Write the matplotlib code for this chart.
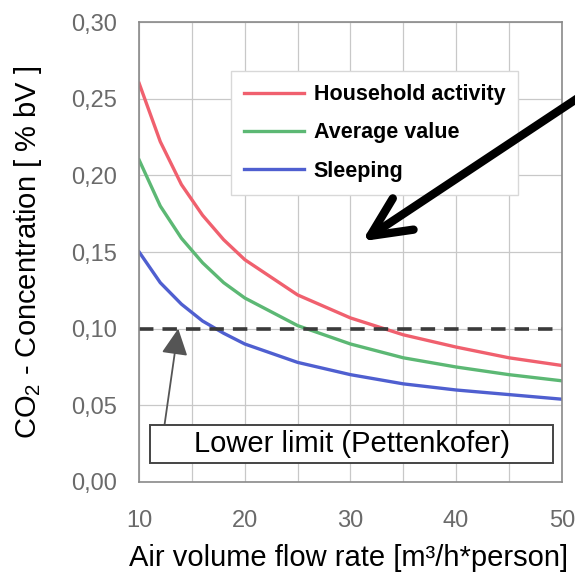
import matplotlib
matplotlib.use("Agg")
import matplotlib.pyplot as plt
from matplotlib.patches import Rectangle

plt.rcParams['font.family'] = ['Liberation Sans', 'DejaVu Sans']
plt.rcParams['mathtext.fontset'] = 'custom'
plt.rcParams['mathtext.rm'] = 'Liberation Sans'

# air volume flow rate [m3/h*person]
flow = [10, 12, 14, 16, 18, 20, 25, 30, 35, 40, 45, 50]
# CO2 concentration [% bV]
household = [0.260, 0.222, 0.194, 0.174, 0.158, 0.145, 0.122, 0.107, 0.096, 0.088, 0.081, 0.076]
average = [0.210, 0.180, 0.159, 0.143, 0.130, 0.120, 0.102, 0.090, 0.081, 0.075, 0.070, 0.066]
sleeping = [0.150, 0.130, 0.116, 0.105, 0.097, 0.090, 0.078, 0.070, 0.064, 0.060, 0.057, 0.054]
series_names = ['Household activity', 'Average value', 'Sleeping']
limit = 0.10

xticks = [10, 20, 30, 40, 50]
yticks = [0.0, 0.05, 0.10, 0.15, 0.20, 0.25, 0.30]
ytick_labels = ['0,00', '0,05', '0,10', '0,15', '0,20', '0,25', '0,30']

fig = plt.figure(figsize=(5.75, 5.8), dpi=100)
ax = fig.add_axes([0.242, 0.169, 0.735, 0.793])

ax.plot(flow, household, color='#f0606e', lw=2.4, label=series_names[0])
ax.plot(flow, average, color='#5cb874', lw=2.4, label=series_names[1])
ax.plot(flow, sleeping, color='#4f5fd0', lw=2.4, label=series_names[2])
ax.plot([flow[0], flow[-1]], [limit, limit], color='#3a3a3a', lw=2.6, ls=(0, (4, 2.5)))

ax.set_xlim(10, 50)
ax.set_ylim(0, 0.30)
ax.set_xticks(xticks)
ax.set_xticks(range(10, 51, 5), minor=True)
ax.set_yticks(yticks)
ax.set_yticklabels(ytick_labels)
ax.grid(True, which='both', color='#c8c8c8', lw=0.9)
ax.tick_params(which='both', length=0, labelsize=17, labelcolor='#6a6a6a')
ax.tick_params(axis='x', pad=20)
ax.tick_params(axis='y', pad=16)
for s in ax.spines.values():
    s.set_color('#8a8a8a')
    s.set_linewidth(1.2)

ax.set_xlabel('Air volume flow rate [m³/h*person]', fontsize=21)
ax.xaxis.set_label_coords(0.495, -0.135)
ax.set_ylabel('CO$_\\mathregular{2}$ - Concentration [ % bV ]', fontsize=21)
ax.yaxis.set_label_coords(-0.225, 0.50)

leg = ax.legend(loc='upper left', bbox_to_anchor=(0.217, 0.893), borderaxespad=0,
                prop={'weight': 'bold', 'size': 15.5}, frameon=True, fancybox=False,
                framealpha=1, handlelength=2.8, handletextpad=0.45, borderpad=0.6,
                labelspacing=0.8)
leg.get_frame().set_edgecolor('#d8d8d8')
leg.get_frame().set_linewidth(1.0)
leg.set_zorder(5)

# lower limit box with arrow
ax.add_patch(Rectangle((11.0, 0.0124), 38.2, 0.0248, fc='white', ec='#444444', lw=1.4, zorder=4))
ax.text(30.1, 0.0245, 'Lower limit (Pettenkofer)', fontsize=21, ha='center', va='center', zorder=5)
ax.annotate('', xy=(13.7, 0.1), xytext=(12.4, 0.0372),
            arrowprops=dict(arrowstyle='-|>,head_length=0.9,head_width=0.45', color='#555555',
                            lw=1.3, mutation_scale=18, shrinkA=0, shrinkB=0))

# big black arrow, drawn over the legend
arrow = ax.annotate('', xy=(31.1, 0.157), xycoords='data', xytext=(590, 490),
                    textcoords='figure pixels', annotation_clip=False,
                    arrowprops=dict(arrowstyle='->,head_length=0.95,head_width=0.45',
                                    color='black', lw=6, mutation_scale=30,
                                    shrinkA=0, shrinkB=0, capstyle='round', joinstyle='round'))
arrow.set_zorder(10)
arrow.arrow_patch.set_zorder(10)

fig.savefig('out.png', dpi=100)
